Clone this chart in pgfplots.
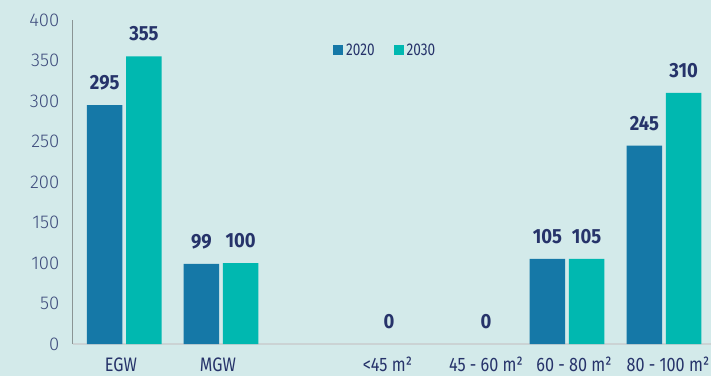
\documentclass[border=0pt]{standalone}
\usepackage{pgfplots}
\pgfplotsset{compat=1.18}
\usepackage{fontspec}
\setmainfont{Fira Sans}
\newfontfamily\tickfont{Fira Sans}[UprightFont=* Light]
\newfontfamily\condfont{Fira Sans}[FakeStretch=0.83]
\newfontfamily\legfont{Fira Sans}[FakeStretch=0.80]
\newfontfamily\valfont{Fira Sans}[FakeStretch=0.90]
\definecolor{bg}{HTML}{D3EAEA}
\definecolor{cA}{HTML}{1578A7}
\definecolor{cB}{HTML}{00B8B0}
\definecolor{navy}{HTML}{26336A}
\definecolor{tickc}{HTML}{3E4C7C}
\definecolor{yl}{HTML}{8A9494}
\definecolor{xl}{HTML}{CBD3D4}
\begin{document}
\begin{tikzpicture}[x=1pt,y=1pt]
\fill[bg] (-73,-32) rectangle (638,344);
\useasboundingbox (-73,-32) rectangle (638,344);
\begin{axis}[
  at={(0,0)}, anchor=south west,
  scale only axis, width=638pt, height=324pt,
  xmin=73, xmax=711, ymin=0, ymax=400,
  clip=false,
  axis x line*=bottom, axis y line*=left,
  x axis line style={draw=xl, line width=2pt, -},
  y axis line style={draw=yl, line width=1pt, -},
  major tick length=0pt,
  /pgf/number format/assume math mode=true,
  ytick={0,50,...,400},
  yticklabel style={font=\tickfont\fontsize{18.5}{18.5}\selectfont, text=tickc, anchor=east, inner sep=0pt, xshift=-13.5pt},
  xtick={121,218,387.5,486,574,668},
  xticklabels={EGW,MGW,{<45 m²},{45 - 60 m²},{60 - 80 m²},{80 - 100 m²}},
  xticklabel style={font=\condfont\fontsize{19.5}{19.5}\selectfont, text=navy, anchor=base, inner sep=0pt, yshift=-27.5pt},
  ybar, bar width=35.5pt,
  nodes near coords,
  every node near coord/.append style={font=\valfont\bfseries\fontsize{20.5}{20.5}\selectfont, text=navy, anchor=south, inner sep=0pt, yshift=15pt},
  legend columns=2,
  legend image code/.code={\fill[#1] (0pt,-5.4pt) rectangle (10pt,4.6pt);},
  legend style={at={(0.4075,0.8867)}, anchor=south west, draw=none, fill=none, inner sep=0pt,
    font=\legfont\fontsize{17}{17}\selectfont, text=navy,
    nodes={inner sep=0pt}, column sep=3pt,
    /tikz/every even column/.append style={column sep=19pt}},
]
\addplot[fill=cA, draw=none, bar shift=-19.6pt] coordinates {(124.3,295) (221,99) (567,105) (664,245)};
\addplot[fill=cB, draw=none, bar shift=19.6pt] coordinates {(124.3,355) (221,100) (567,105) (664,310)};
\addplot[draw=none, fill=none, bar shift=0pt, forget plot] coordinates {(389,0) (486,0)};
\legend{2020,2030}
\end{axis}
\end{tikzpicture}
\end{document}
